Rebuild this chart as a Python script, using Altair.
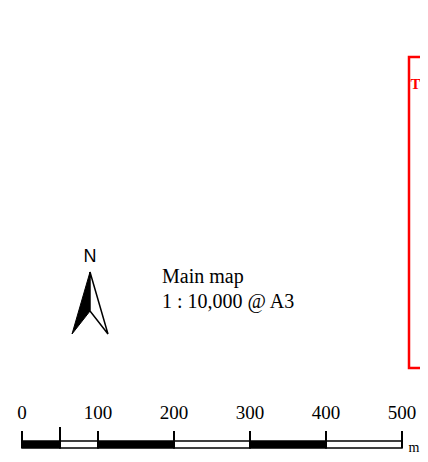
import altair as alt
import pandas as pd

# ---- data ----
tick_values = [0, 100, 200, 300, 400, 500]
tick_labels = ["0", "100", "200", "300", "400", "500"]
minor_ticks = [50]
seg_start = [0, 50, 100, 200, 300, 400]
seg_end = [50, 100, 200, 300, 400, 500]
seg_fill = ["black", "white", "black", "white", "black", "white"]
unit_label = ["m"]
map_text = ["Main map", "1 : 10,000 @ A3"]
north_text = ["N"]
frame_text = ["T"]

W, H = 412, 446
x0_px, px_per_m = 14, 0.76
xs = alt.Scale(domain=[(0 - x0_px) / px_per_m, (W - x0_px) / px_per_m], nice=False, zero=False)

seg_df = pd.DataFrame({"start": seg_start, "end": seg_end, "fill": seg_fill})
tick_df = pd.DataFrame({"v": tick_values, "label": tick_labels})
minor_df = pd.DataFrame({"v": minor_ticks})
one = pd.DataFrame({"k": [0]})

bar = alt.Chart(seg_df).mark_rect(stroke="black", strokeWidth=1.5).encode(
    x=alt.X("start:Q", scale=xs, axis=None),
    x2="end:Q",
    y=alt.value(433), y2=alt.value(440),
    fill=alt.Fill("fill:N", scale=None),
)
ticks = alt.Chart(tick_df).mark_rule(color="black", strokeWidth=2).encode(
    x=alt.X("v:Q", scale=xs, axis=None), y=alt.value(423), y2=alt.value(440)
)
minor = alt.Chart(minor_df).mark_rule(color="black", strokeWidth=2).encode(
    x=alt.X("v:Q", scale=xs, axis=None), y=alt.value(419), y2=alt.value(440)
)
labels = alt.Chart(tick_df).mark_text(
    font="Liberation Serif", fontSize=19, baseline="middle", color="black"
).encode(x=alt.X("v:Q", scale=xs, axis=None), y=alt.value(405), text="label:N")
unit = alt.Chart(pd.DataFrame({"t": unit_label})).mark_text(
    font="Liberation Serif", fontSize=14, baseline="middle", align="left", color="black"
).encode(x=alt.value(400.5), y=alt.value(440), text="t:N")

arrow_left = alt.Chart(one).mark_point(
    shape="M0,-1 L-0.58,1 L0,0.26 Z", filled=True, fill="black", stroke="black",
    strokeWidth=1, opacity=1, size=3844,
).encode(x=alt.value(82), y=alt.value(295))
arrow_right = alt.Chart(one).mark_point(
    shape="M0,-1 L0.58,1 L0,0.26 Z", filled=True, fill="white", stroke="black",
    strokeWidth=1.5, opacity=1, size=3844,
).encode(x=alt.value(82), y=alt.value(295))
north = alt.Chart(pd.DataFrame({"t": north_text})).mark_text(
    font="Liberation Sans", fontSize=18, baseline="middle", color="black"
).encode(x=alt.value(82), y=alt.value(249), text="t:N")

main1 = alt.Chart(pd.DataFrame({"t": [map_text[0]]})).mark_text(
    font="Liberation Serif", fontSize=20, baseline="middle", align="left", color="black"
).encode(x=alt.value(154), y=alt.value(269), text="t:N")
main2 = alt.Chart(pd.DataFrame({"t": [map_text[1]]})).mark_text(
    font="Liberation Serif", fontSize=20, baseline="middle", align="left", color="black"
).encode(x=alt.value(154), y=alt.value(294), text="t:N")

frame = alt.Chart(one).mark_rect(filled=False, stroke="red", strokeWidth=2.5).encode(
    x=alt.value(401), x2=alt.value(440), y=alt.value(49), y2=alt.value(360)
)
frame_title = alt.Chart(pd.DataFrame({"t": frame_text})).mark_text(
    font="Liberation Serif", fontSize=15, fontWeight="bold", baseline="middle",
    align="left", color="red"
).encode(x=alt.value(402.5), y=alt.value(76), text="t:N")

chart = alt.layer(
    frame, frame_title, north, arrow_left, arrow_right, main1, main2,
    bar, ticks, minor, labels, unit
).properties(
    width=W, height=H, padding=0, autosize=alt.AutoSizeParams(type="none")
).configure_view(stroke=None)

chart.save("out.html", embed_options={"renderer": "svg", "actions": False})
